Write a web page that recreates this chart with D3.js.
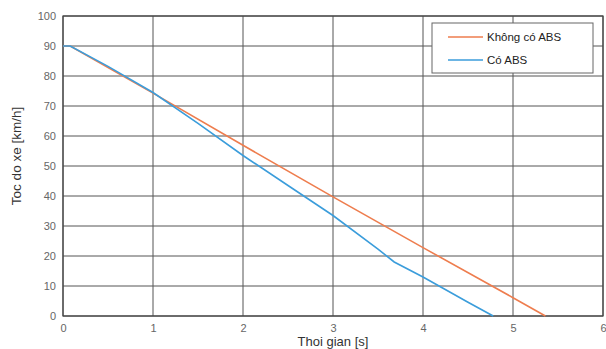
<!DOCTYPE html>
<html lang="vi">
<head>
<meta charset="UTF-8">
<script src="https://d3js.org/d3.v7.min.js"></script>
<style>
  body { margin: 0; background: #fff; }
  text { font-family: "Liberation Sans", Arial, sans-serif; }
</style>
</head>
<body>
<div id="my_chart"></div>
<script>
  // data
  var seriesNames = ["Không có ABS", "Có ABS"];
  var khongAbs = [[0, 90], [0.08, 90], [1, 74.3], [2, 56.9], [3, 39.7], [4, 22.8], [5, 6.1], [5.36, 0]];
  var coAbs = [[0, 90], [0.08, 90], [0.5, 83.2], [1, 74.5], [1.5, 64.2], [2, 53.5], [2.5, 43.5],
               [3, 33.5], [3.5, 22.3], [3.68, 18], [4, 13], [4.5, 4.6], [4.78, 0]];
  var xTicks = [0, 1, 2, 3, 4, 5, 6];
  var yTicks = [0, 10, 20, 30, 40, 50, 60, 70, 80, 90, 100];
  var colors = ["#ee7d4e", "#3b9ddb"];

  var margin = { top: 16, right: 3, bottom: 33, left: 63 },
      width = 606 - margin.left - margin.right,
      height = 349 - margin.top - margin.bottom;

  var svg = d3.select("#my_chart")
    .append("svg")
    .attr("width", 606)
    .attr("height", 349)
    .append("g")
    .attr("transform", "translate(" + margin.left + "," + margin.top + ")");

  var x = d3.scaleLinear().domain([0, 6]).range([0, width]);
  var y = d3.scaleLinear().domain([0, 100]).range([height, 0]);

  // grid
  svg.append("g")
    .selectAll("line")
    .data(xTicks)
    .enter().append("line")
    .attr("x1", d => x(d)).attr("x2", d => x(d))
    .attr("y1", 0).attr("y2", height)
    .attr("stroke", "#555").attr("stroke-width", 1);
  svg.append("g")
    .selectAll("line")
    .data(yTicks)
    .enter().append("line")
    .attr("x1", 0).attr("x2", width)
    .attr("y1", d => y(d)).attr("y2", d => y(d))
    .attr("stroke", "#555").attr("stroke-width", 1);

  // axes
  var xAxis = svg.append("g")
    .attr("transform", "translate(0," + height + ")")
    .call(d3.axisBottom(x).tickValues(xTicks).tickFormat(d3.format("d")).tickSize(0).tickPadding(8));
  var yAxis = svg.append("g")
    .call(d3.axisLeft(y).tickValues(yTicks).tickSize(0).tickPadding(7));
  [xAxis, yAxis].forEach(function (a) {
    a.select(".domain").remove();
    a.selectAll("text").attr("fill", "#666").style("font-size", "11px");
  });
  // last x label sits at the right edge
  xAxis.selectAll(".tick text").filter(d => d === 6).attr("text-anchor", "end").attr("x", 3);

  // frame
  svg.append("rect")
    .attr("width", width).attr("height", height)
    .attr("fill", "none").attr("stroke", "#444").attr("stroke-width", 1.2);

  // lines
  var line = d3.line().x(d => x(d[0])).y(d => y(d[1]));
  [khongAbs, coAbs].forEach(function (s, i) {
    svg.append("path")
      .datum(s)
      .attr("d", line)
      .attr("fill", "none")
      .attr("stroke", colors[i])
      .attr("stroke-width", 1.6);
  });

  // titles
  svg.append("text")
    .attr("x", width / 2).attr("y", height + 30)
    .attr("text-anchor", "middle")
    .attr("fill", "#333")
    .style("font-size", "13px")
    .text("Thoi gian [s]");
  svg.append("text")
    .attr("transform", "translate(" + (-42) + "," + (height / 2 - 10) + ") rotate(-90)")
    .attr("text-anchor", "middle")
    .attr("fill", "#333")
    .style("font-size", "13.5px")
    .text("Toc do xe [km/h]");

  // legend
  var legend = svg.append("g").attr("transform", "translate(" + (432 - margin.left) + "," + (23 - margin.top) + ")");
  legend.append("rect")
    .attr("width", 161).attr("height", 50)
    .attr("fill", "#fff").attr("stroke", "#666").attr("stroke-width", 1);
  seriesNames.forEach(function (n, i) {
    var g = legend.append("g").attr("transform", "translate(0," + (14 + i * 23) + ")");
    g.append("line")
      .attr("x1", 16).attr("x2", 51)
      .attr("stroke", colors[i]).attr("stroke-width", 1.6);
    g.append("text")
      .attr("x", 55).attr("y", 4)
      .attr("fill", "#222")
      .style("font-size", "11.5px")
      .text(n);
  });
</script>
</body>
</html>
